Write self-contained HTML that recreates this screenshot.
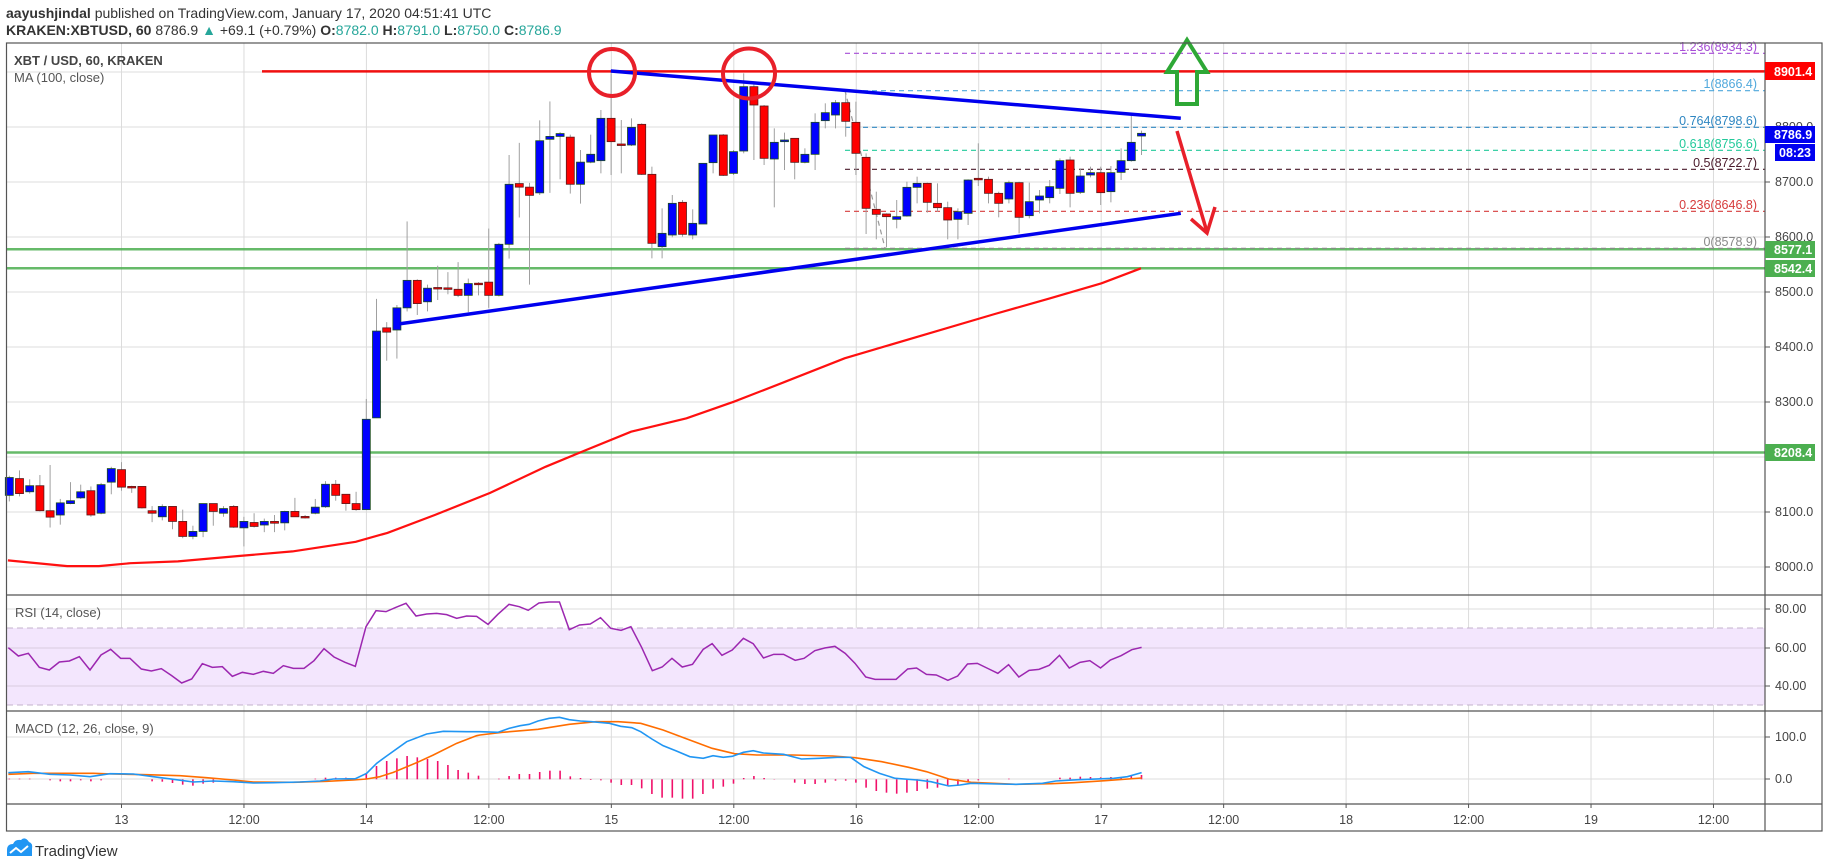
<!DOCTYPE html>
<html><head><meta charset="utf-8">
<style>
html,body{margin:0;padding:0;background:#fff;}
body{width:1828px;height:868px;overflow:hidden;position:relative;font-family:"Liberation Sans",sans-serif;}
svg{position:absolute;left:0;top:0;}
</style></head>
<body>
<svg id="s" width="1828" height="868" xmlns="http://www.w3.org/2000/svg" font-family="Liberation Sans, sans-serif">
<rect width="1828" height="868" fill="#fff"/>
<g id="grid" stroke="#dcdcdc" stroke-width="1"></g>
<!-- RSI band -->
<rect x="7" y="628" width="1758" height="77" fill="#f3e6fd"/>
<line x1="7" y1="628" x2="1765" y2="628" stroke="#c3b3cc" stroke-dasharray="6,4"/>
<line x1="7" y1="705" x2="1765" y2="705" stroke="#c3b3cc" stroke-dasharray="6,4"/>
<g id="grid2" stroke="#d8cce0" stroke-width="1"></g>
<!-- green support lines -->
<line x1="7" y1="249.3" x2="1765" y2="249.3" stroke="#4caf50" stroke-width="2.5" opacity="0.85"/>
<line x1="7" y1="268.2" x2="1765" y2="268.2" stroke="#4caf50" stroke-width="2.5" opacity="0.85"/>
<line x1="7" y1="452.5" x2="1765" y2="452.5" stroke="#4caf50" stroke-width="2.5" opacity="0.85"/>
<!-- fib -->
<g stroke-dasharray="5,4" stroke-width="1.2">
<line x1="845" y1="53.3" x2="1765" y2="53.3" stroke="#a64dd6"/>
<line x1="845" y1="90.7" x2="1765" y2="90.7" stroke="#4fa8dc"/>
<line x1="845" y1="127.3" x2="1765" y2="127.3" stroke="#2e86c1"/>
<line x1="845" y1="150.3" x2="1765" y2="150.3" stroke="#22c99a"/>
<line x1="845" y1="169.3" x2="1765" y2="169.3" stroke="#4a1a2a"/>
<line x1="845" y1="211.3" x2="1765" y2="211.3" stroke="#d63c3c"/>
<line x1="845" y1="248.3" x2="1765" y2="248.3" stroke="#888"/>
<line x1="844.8" y1="90" x2="885.1" y2="248.3" stroke="#999"/>
</g>
<g font-size="12.5" text-anchor="end">
<text x="1757" y="51" fill="#a64dd6">1.236(8934.3)</text>
<text x="1757" y="88" fill="#4fa8dc">1(8866.4)</text>
<text x="1757" y="125" fill="#2e86c1">0.764(8798.6)</text>
<text x="1757" y="148" fill="#22c99a">0.618(8756.6)</text>
<text x="1757" y="167" fill="#4a1a2a">0.5(8722.7)</text>
<text x="1757" y="209" fill="#d63c3c">0.236(8646.8)</text>
<text x="1757" y="246" fill="#888">0(8578.9)</text>
</g>
<!-- red resistance -->
<line x1="262" y1="71.4" x2="1765" y2="71.4" stroke="#f01010" stroke-width="2.5"/>
<g id="ma"></g>
<g id="candles"></g>
<!-- trendlines -->
<line x1="610.8" y1="71" x2="1180.8" y2="118.3" stroke="#0000ee" stroke-width="3.5"/>
<line x1="399.2" y1="323.9" x2="1180.8" y2="213.3" stroke="#0000ee" stroke-width="3.5"/>
<!-- circles -->
<ellipse cx="612" cy="72.5" rx="23" ry="23.5" fill="none" stroke="#e8202a" stroke-width="4"/>
<ellipse cx="749" cy="73.5" rx="26" ry="25" fill="none" stroke="#e8202a" stroke-width="4"/>
<!-- green up arrow -->
<polygon points="1187,40 1207,72 1197,72 1197,104 1177,104 1177,72 1167,72" fill="none" stroke="#2ea836" stroke-width="4" stroke-linejoin="miter"/>
<!-- red down arrow -->
<line x1="1177" y1="131" x2="1207" y2="232" stroke="#e8202a" stroke-width="3.5"/>
<polyline points="1191,219 1207,233 1215,207" fill="none" stroke="#e8202a" stroke-width="3.5"/>
<!-- rsi / macd -->
<g id="ind"></g>
<!-- borders -->
<g stroke="#555" stroke-width="1.2" fill="none">
<rect x="6.5" y="43" width="1815.5" height="788"/>
<line x1="6.5" y1="595" x2="1822" y2="595"/>
<line x1="6.5" y1="711" x2="1822" y2="711"/>
<line x1="6.5" y1="804" x2="1822" y2="804"/>
<line x1="1765" y1="43" x2="1765" y2="831"/>
</g>
<g id="ticks" stroke="#555"></g>
<!-- right axis labels -->
<g font-size="12.5" fill="#444">
<text x="1775" y="131">8800.0</text>
<text x="1775" y="186">8700.0</text>
<text x="1775" y="241">8600.0</text>
<text x="1775" y="296">8500.0</text>
<text x="1775" y="351">8400.0</text>
<text x="1775" y="406">8300.0</text>
<text x="1775" y="461">8200.0</text>
<text x="1775" y="516">8100.0</text>
<text x="1775" y="571">8000.0</text>
<text x="1775" y="613">80.00</text>
<text x="1775" y="652">60.00</text>
<text x="1775" y="690">40.00</text>
<text x="1775" y="741">100.0</text>
<text x="1775" y="783">0.0</text>
</g>
<rect x="1765" y="62" width="50" height="18" fill="#f00"/>
<text x="1774" y="76" font-size="12.5" font-weight="bold" fill="#fff">8901.4</text>
<rect x="1765" y="126" width="50" height="17" fill="#0000f0"/>
<text x="1774" y="139" font-size="12.5" font-weight="bold" fill="#fff">8786.9</text>
<rect x="1775" y="144" width="40" height="17" fill="#0000f0"/>
<text x="1779" y="157" font-size="12.5" font-weight="bold" fill="#fff">08:23</text>
<rect x="1765" y="241" width="50" height="17" fill="#4caf50"/>
<text x="1774" y="254" font-size="12.5" font-weight="bold" fill="#fff">8577.1</text>
<rect x="1765" y="260" width="50" height="17" fill="#4caf50"/>
<text x="1774" y="273" font-size="12.5" font-weight="bold" fill="#fff">8542.4</text>
<rect x="1765" y="444" width="50" height="17" fill="#4caf50"/>
<text x="1774" y="457" font-size="12.5" font-weight="bold" fill="#fff">8208.4</text>
<!-- time labels -->
<g font-size="12.5" fill="#444" text-anchor="middle">
<text x="121.5" y="824">13</text><text x="244" y="824">12:00</text>
<text x="366.4" y="824">14</text><text x="488.9" y="824">12:00</text>
<text x="611.3" y="824">15</text><text x="733.8" y="824">12:00</text>
<text x="856.3" y="824">16</text><text x="978.7" y="824">12:00</text>
<text x="1101.2" y="824">17</text><text x="1223.6" y="824">12:00</text>
<text x="1346.1" y="824">18</text><text x="1468.6" y="824">12:00</text>
<text x="1591" y="824">19</text><text x="1713.5" y="824">12:00</text>
</g>
<!-- legends -->
<text x="14" y="65" font-size="13" font-weight="bold" fill="#444">XBT / USD, 60, KRAKEN</text>
<text x="14" y="82" font-size="13" fill="#555">MA (100, close)</text>
<text x="15" y="617" font-size="13" fill="#555">RSI (14, close)</text>
<text x="15" y="733" font-size="13" fill="#555">MACD (12, 26, close, 9)</text>
<!-- header -->
<text x="6" y="18" font-size="14" fill="#333"><tspan font-weight="bold">aayushjindal</tspan> published on TradingView.com, January 17, 2020 04:51:41 UTC</text>
<text x="6" y="35" font-size="14" fill="#333"><tspan font-weight="bold">KRAKEN:XBTUSD, 60</tspan> 8786.9 <tspan fill="#26a69a">▲</tspan> +69.1 (+0.79%) <tspan font-weight="bold">O:</tspan><tspan fill="#26a69a">8782.0</tspan> <tspan font-weight="bold">H:</tspan><tspan fill="#26a69a">8791.0</tspan> <tspan font-weight="bold">L:</tspan><tspan fill="#26a69a">8750.0</tspan> <tspan font-weight="bold">C:</tspan><tspan fill="#26a69a">8786.9</tspan></text>
<!-- logo -->
<path d="M7,856 L7,850 Q7,844 13,844 Q15,839 21,840 Q25,836 29,842 Q33,843 32,849 L32,856 Z" fill="#2196f3"/>
<polyline points="10,853 16,848 21,852 28,846" fill="none" stroke="#fff" stroke-width="2"/>
<text x="35" y="856" font-size="15" fill="#333">TradingView</text>
</svg>
<script>
(function(){
var NS="http://www.w3.org/2000/svg";
function el(p,t,a){var e=document.createElementNS(NS,t);for(var k in a)e.setAttribute(k,a[k]);p.appendChild(e);return e;}
var g=document.getElementById('grid'),g2=document.getElementById('grid2'),tk=document.getElementById('ticks');
for(var k=0;k<14;k++){var x=121.5+122.46*k;el(g,'line',{x1:x,y1:43,x2:x,y2:804});el(tk,'line',{x1:x,y1:804,x2:x,y2:808});}
[72,127,182,237,292,347,402,457,512,567].forEach(function(y){el(g,'line',{x1:7,y1:y,x2:1765,y2:y});});
[609,737,779].forEach(function(y){el(g,'line',{x1:7,y1:y,x2:1765,y2:y});});
[648,686].forEach(function(y){el(g2,'line',{x1:7,y1:y,x2:1765,y2:y});});
[127,182,237,292,347,402,457,512,567,609,648,686,737,779].forEach(function(y){el(tk,'line',{x1:1765,y1:y,x2:1770,y2:y});});
// candles
var A=[[1275,1225,1220,1292],[1228,1270,1205,1278],[1265,1248,1230,1270],[1248,1318,1218,1320],[1318,1336,1190,1365],[1330,1296,1285,1357],[1298,1290,1238,1300],[1282,1265,1245,1285],[1262,1330,1250,1335],[1325,1245,1240,1328],[1238,1200,1195,1272],[1203,1252,1182,1262],[1250,1251,1248,1268],[1250,1310,1250,1312],[1318,1325,1305,1350],[1335,1306,1300,1345],[1306,1348,1306,1370],[1348,1390,1315,1395],[1390,1376,1360,1398],[1376,1298,1298,1392],[1298,1320,1298,1360],[1325,1312,1305,1335],[1306,1364,1302,1366],[1366,1348,1335,1418],[1351,1362,1325,1365],[1358,1348,1340,1378],[1348,1353,1330,1378],[1352,1320,1318,1373],[1320,1335,1282,1335],[1334,1335,1330,1340],[1325,1308,1285,1328],[1307,1244,1235,1310],[1244,1275,1232,1290],[1272,1298,1272,1318],[1298,1315,1265,1318],[1315,1062,1005,1315],[1058,815,725,1058],[806,818,790,898],[812,750,742,892],[750,673,508,760],[673,738,670,770],[733,695,685,760],[693,694,632,728],[694,698,650,712],[698,715,622,720],[715,682,668,762],[681,682,678,715],[678,715,528,750],[715,572,568,718],[572,404,322,612],[402,412,288,497],[412,435,400,685],[428,282,225,434],[278,270,172,428],[270,262,258,390],[272,404,265,430],[404,342,308,458],[342,320,265,345]];
var B=[[362,235,210,400],[235,305,100,405],[312,313,240,400],[315,262,235,318],[253,403,250,405],[403,610,380,655],[620,580,505,655],[585,490,465,592],[487,583,480,590],[585,550,508,598],[552,370,370,552],[368,285,285,400],[285,406,282,408],[400,335,330,405],[333,140,100,340],[140,195,130,360],[198,355,195,375],[357,307,265,502],[305,300,278,390],[295,367,295,418],[367,343,325,370],[343,247,220,390],[242,218,190,265],[225,188,180,265],[188,244,148,290],[247,340,185,405],[352,505,340,582],[508,523,455,598],[522,530,520,622],[538,530,480,565],[528,442,425,530],[442,430,410,490],[430,487,428,518],[490,503,430,515],[503,540,485,598],[538,515,505,598],[520,420,418,555],[415,416,310,438],[418,460,410,490],[460,490,455,532],[477,428,422,490],[428,532,425,580],[527,485,428,535],[480,468,450,520],[473,440,420,490],[445,362,355,462],[360,460,350,502],[457,408,385,462],[405,398,380,412],[398,458,380,495],[455,398,378,487],[397,362,325,420],[362,307,228,365],[288,280,272,345]];
var C=[];A.forEach(function(r){C.push(r.map(function(v){return 40+v/2.8;}));});
B.forEach(function(r){C.push(r.map(function(v){return 40+v/3;}));});
var cg=document.getElementById('candles');
C.forEach(function(r,i){var x=9.3+10.2*i;var o=r[0],c=r[1],h=r[2],l=r[3];
 el(cg,'line',{x1:x,y1:h,x2:x,y2:l,stroke:'#a0a0a0','stroke-width':1});
 var up=c<=o;var top=Math.min(o,c),ht=Math.max(Math.abs(o-c),1.5);
 el(cg,'rect',{x:x-4,y:top,width:8,height:ht,fill:up?'#0000ff':'#ff0000',stroke:up?'#1d4d1d':'#5a1a1a','stroke-width':0.8});
});
// MA
var ma=[[7.9,560.4],[67.2,566.1],[98.8,566.1],[130.4,563.2],[177.9,561.4],[237.2,556.1],[292.5,551.4],[355.7,541.8],[387.4,532.9],[434.8,515],[490.1,492.9],[545.5,466.8],[583.7,451],[631.1,431.7],[686.5,418.3],[733.9,401.7],[785.3,381.7],[844.6,358.3],[915.7,337.3],[994.8,314],[1050.1,298.3],[1101.5,283.3],[1141,268.3]];
el(document.getElementById('ma'),'polyline',{points:ma.join(' '),fill:'none',stroke:'#ff1010','stroke-width':2.2});
var ind=document.getElementById('ind');
// RSI
var r4=[[25,203],[55,228],[85,220],[118,262],[148,270],[178,246],[208,243],[238,230],[270,270],[303,225],[332,208],[362,235],[390,235],[424,267],[454,273],[484,266],[515,287],[545,309],[575,297],[607,251],[637,262],[667,260],[697,289],[727,277],[760,283],[790,274],[820,280],[850,257],[880,265],[912,265],[942,242],[972,206],[1002,231],[1035,247],[1066,259],[1098,140],[1128,92],[1158,95],[1188,82],[1218,70],[1248,108],[1280,102],[1310,100],[1340,104],[1370,115],[1400,108],[1430,109]];
var r7=[[18,88],[40,58],[65,28],[88,35],[108,46],[132,24],[155,21],[178,21],[200,104],[223,90],[247,87],[270,68],[293,100],[316,106],[338,95],[362,157],[386,227],[408,216],[430,190],[453,216],[476,208],[500,163],[520,146],[542,181],[565,165],[590,130],[612,146],[635,189],[658,178],[680,178],[706,196],[726,190],[750,167],[772,159],[795,154],[818,175],[840,205],[864,246],[885,253],[932,253],[958,222],[978,219],[1000,238],[1022,240],[1048,256],[1070,243],[1092,207],[1114,205],[1140,222],[1160,235],[1184,209],[1207,246],[1230,226],[1252,223],[1275,211],[1298,181],[1320,219],[1344,202],[1366,197],[1390,219],[1412,195],[1436,182],[1460,164],[1482,157]];
var rp=r4.map(function(p){return [p[0]/3,580+p[1]/3];}).concat(r7.map(function(p){return [480+p[0]/2.24,595+p[1]/3];}));
el(ind,'polyline',{points:rp.join(' '),fill:'none',stroke:'#9c27b0','stroke-width':1.5});
// MACD hist
var h4=[[28,596],[58,596],[88,596],[150,601],[180,604],[210,604],[240,601],[275,604],[305,601],[458,604],[487,605],[517,609],[547,614],[580,617],[610,611],[640,608],[947,596],[977,593],[1007,593],[1040,593],[1100,580],[1130,558],[1162,543],[1192,535],[1222,528],[1252,532],[1282,537],[1315,543],[1345,555],[1375,570],[1405,578],[1435,587]];
var h7=[[44,551],[66,543],[88,537],[110,537],[134,531],[158,527],[180,527],[203,544],[225,549],[250,555],[272,556],[294,563],[316,570],[339,570],[362,580],[386,597],[409,608],[431,608],[454,611],[477,611],[500,597],[522,581],[545,575],[568,566],[593,549],[614,543],[637,549],[660,552],[706,563],[728,567],[751,567],[774,563],[797,557],[820,557],[843,563],[865,578],[887,588],[910,593],[934,596],[957,593],[980,588],[1003,581],[1027,578],[1050,572],[1072,572],[1095,560],[1118,556],[1186,551],[1300,548],[1322,548],[1345,545],[1368,546],[1392,547],[1414,546],[1436,546],[1460,543],[1483,540]];
var hp=h4.map(function(p){return [p[0]/3,580+p[1]/3];}).concat(h7.map(function(p){return [480+p[0]/2.24,595+p[1]/3];}));
hp.forEach(function(p){var i=Math.round((p[0]-9.3)/10.2);var x=9.3+10.2*i;el(ind,'line',{x1:x,y1:779.3,x2:x,y2:p[1],stroke:'#f0106a','stroke-width':1.6});});
// MACD lines
var b4=[[25,578],[85,575],[150,583],[210,585],[270,590],[330,581],[400,582],[460,590],[520,598],[580,606],[640,603],[700,605],[760,609],[820,608],[900,606],[960,603],[1000,597],[1066,596],[1100,580],[1130,550],[1160,528],[1220,485],[1280,462],[1330,454],[1400,455]];
var b7=[[0,410],[40,412],[65,400],[90,392],[110,388],[130,378],[155,370],[178,367],[200,374],[225,378],[250,380],[290,385],[315,394],[340,398],[360,410],[385,432],[410,452],[440,468],[470,485],[500,490],[522,482],[545,487],[565,484],[590,472],[612,467],[635,474],[680,478],[720,492],[760,490],[800,487],[830,487],[860,515],[895,535],[930,550],[980,555],[1010,560],[1050,573],[1075,570],[1100,565],[1160,567],[1200,568],[1260,565],[1290,558],[1340,554],[1420,550],[1450,545],[1482,533]];
var o4=[[25,583],[100,580],[200,580],[280,580],[340,582],[440,584],[540,587],[620,593],[700,600],[760,606],[880,607],[980,604],[1060,600],[1100,597],[1140,590],[1180,577],[1250,548],[1300,525],[1370,490],[1430,467]];
var o7=[[0,420],[50,412],[130,403],[200,388],[260,380],[310,380],[360,385],[410,405],[460,430],[520,460],[570,476],[620,480],[700,480],[790,483],[840,488],[900,500],[960,517],[1000,530],[1050,552],[1100,562],[1200,568],[1280,566],[1330,563],[1400,557],[1482,549]];
function cv(a,b){return a.map(function(p){return [p[0]/3,580+p[1]/3];}).concat(b.map(function(p){return [480+p[0]/2.24,595+p[1]/3];}));}
el(ind,'polyline',{points:cv(o4,o7).join(' '),fill:'none',stroke:'#ff6d00','stroke-width':1.6});
el(ind,'polyline',{points:cv(b4,b7).join(' '),fill:'none',stroke:'#2196f3','stroke-width':1.6});
})();
</script>
</body></html>
